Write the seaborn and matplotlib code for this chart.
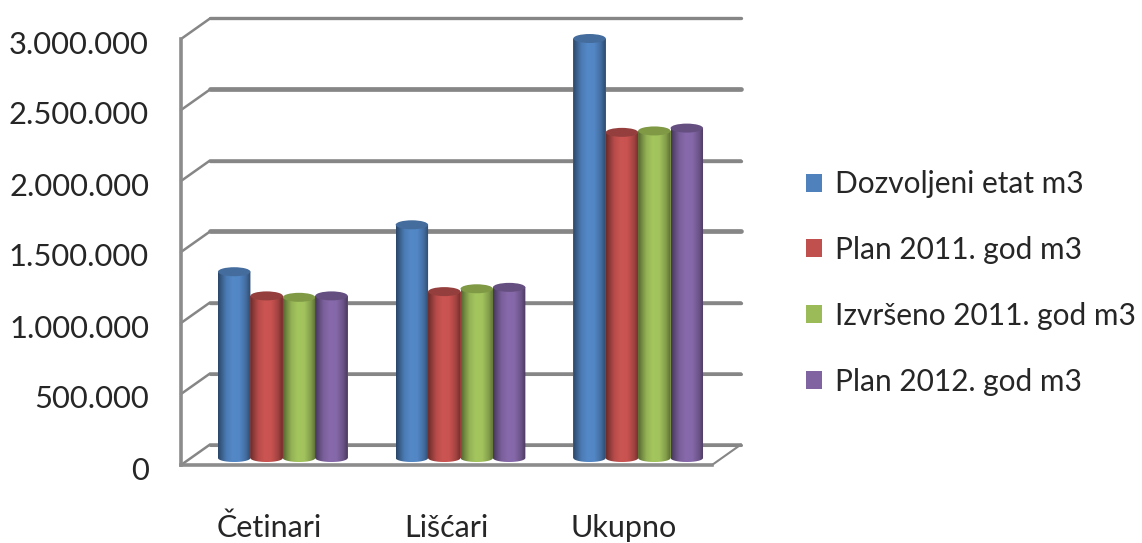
import numpy as np
import pandas as pd
import matplotlib
matplotlib.use('Agg')
import matplotlib.pyplot as plt
from matplotlib.patches import Ellipse, PathPatch
from matplotlib.path import Path
from matplotlib.transforms import ScaledTranslation
import seaborn as sns

# values
categories = ['Četinari', 'Lišćari', 'Ukupno']
dozvoljeni = [1310000, 1640000, 2950000]
plan_2011 = [1140000, 1170000, 2290000]
izvrseno_2011 = [1130000, 1190000, 2300000]
plan_2012 = [1140000, 1200000, 2320000]
series_names = ['Dozvoljeni etat m3', 'Plan 2011. god m3',
                'Izvršeno 2011. god m3', 'Plan 2012. god m3']
y_ticks = [0, 500000, 1000000, 1500000, 2000000, 2500000, 3000000]
y_labels = ['0', '500.000', '1.000.000', '1.500.000', '2.000.000', '2.500.000', '3.000.000']

colors = ['#4F81BD', '#C0504D', '#9BBB59', '#8064A2']
tops = ['#446C9C', '#943F3D', '#7F9945', '#654F80']
GRID = '#868686'
TEXT = '#262626'
W, H = 1142, 543

df = pd.DataFrame({
    'cat': categories * 4,
    'val': dozvoljeni + plan_2011 + izvrseno_2011 + plan_2012,
    'serie': [s for s in series_names for _ in categories],
})

sns.set_style('white')
plt.rcParams['font.family'] = ['Lato', 'DejaVu Sans']
fig = plt.figure(figsize=(W / 100, H / 100), dpi=100)


def px_axes(left, right, top, bottom):
    return fig.add_axes([left / W, 1 - bottom / H, (right - left) / W, (bottom - top) / H])


# ── front plane: axes, ticks, back wall ──────────────────────
ax = px_axes(181, 712, 39, 465)
ax.set_xlim(-0.5, 2.5)
ax.set_ylim(0, 3000000)
ax.set_xticks([0, 1, 2], categories)
ax.set_yticks(y_ticks, y_labels)
ax.tick_params(axis='y', length=0, pad=23, labelsize=22.2, colors=TEXT)
ax.tick_params(axis='x', length=0, pad=35, labelsize=22, colors=TEXT)
label_shift = ScaledTranslation(0, -0.055, fig.dpi_scale_trans)
for lab in ax.get_yticklabels():
    lab.set_verticalalignment('center')
    lab.set_transform(lab.get_transform() + label_shift)
for s in ['top', 'right']:
    ax.spines[s].set_visible(False)
for s in ['left', 'bottom']:
    ax.spines[s].set_color('#8C8C8C')
    ax.spines[s].set_linewidth(2.6)

dx = 29 / 177
dy = 20.5 * 3000000 / 426
widths = [2.2, 2.2, 2.4, 3.4, 2.4, 3.4, 2.4]
for v, lw in zip(y_ticks, widths):
    ax.plot([-0.5, -0.5 + dx, 2.5 + dx], [v, v + dy, v + dy], color=GRID, lw=1.8, clip_on=False,
            solid_joinstyle='miter')
    ax.plot([-0.5 + dx, 2.5 + dx], [v + dy, v + dy], color=GRID, lw=lw, clip_on=False)
ax.plot([2.5, 2.5 + dx], [0, dy], color=GRID, lw=1.5, clip_on=False)

# ── bars ─────────────────────────────────────────────────────
BAR_LEFT, BAR_RIGHT = 194, 727
ZERO_PX, PX_TOP, PX_BOTTOM = 458, 15, 480
unit = 3000000 / 426.6
bx = px_axes(BAR_LEFT, BAR_RIGHT, PX_TOP, PX_BOTTOM)
bx.patch.set_alpha(0)
sns.barplot(data=df, x='cat', y='val', hue='serie', hue_order=series_names,
            palette=colors, width=0.73, gap=0, saturation=1, errorbar=None,
            edgecolor='none', ax=bx)
bx.set_xlim(-0.5, 2.5)
bx.set_ylim((ZERO_PX - PX_BOTTOM) * unit, (ZERO_PX - PX_TOP) * unit)
bx.axis('off')

# horizontal light profile of a cylinder
stops = [0.0, 0.10, 0.25, 0.45, 0.65, 0.85, 1.0]
gains = [0.55, 0.72, 0.95, 1.06, 1.04, 0.85, 0.58]
xs = np.linspace(0, 1, 64)
profile = np.interp(xs, stops, gains)

z = 3
for g, container in enumerate(bx.containers):
    rgb = np.array(matplotlib.colors.to_rgb(colors[g]))
    grad = np.clip(profile[:, None] * rgb, 0, 1)[None, :, :]
    for bar in container:
        x0, w, h = bar.get_x(), bar.get_width(), bar.get_height()
        ry_bot, ry_top = 4 * unit, 4.5 * unit
        t = np.linspace(0, np.pi, 40)
        arc_x = x0 + w / 2 + w / 2 * np.cos(t)
        arc_y = -ry_bot * np.sin(t)
        verts = np.column_stack([np.r_[x0, x0 + w, arc_x, x0], np.r_[h, h, arc_y, h]])
        clip = PathPatch(Path(verts), transform=bx.transData, fc='none', ec='none')
        bx.add_patch(clip)
        img = bx.imshow(grad, extent=[x0, x0 + w, -ry_bot, h], aspect='auto', zorder=z,
                        interpolation='bilinear')
        img.set_clip_path(clip)
        bx.add_patch(Ellipse((x0 + w / 2, h), w, 2 * ry_top, fc=tops[g], ec='none', zorder=z + 0.1))
    z += 1
bx.set_xlim(-0.5, 2.5)
bx.set_ylim((ZERO_PX - PX_BOTTOM) * unit, (ZERO_PX - PX_TOP) * unit)

# ── legend ───────────────────────────────────────────────────
sns.move_legend(bx, 'center left', bbox_to_anchor=(779 / W, 1 - 283 / H),
                bbox_transform=fig.transFigure, frameon=False, title=None, fontsize=21.5,
                labelspacing=1.27, handlelength=0.55, handleheight=0.55, handletextpad=0.42,
                labelcolor=TEXT)

plt.savefig('out.png', dpi=100)
plt.close()
